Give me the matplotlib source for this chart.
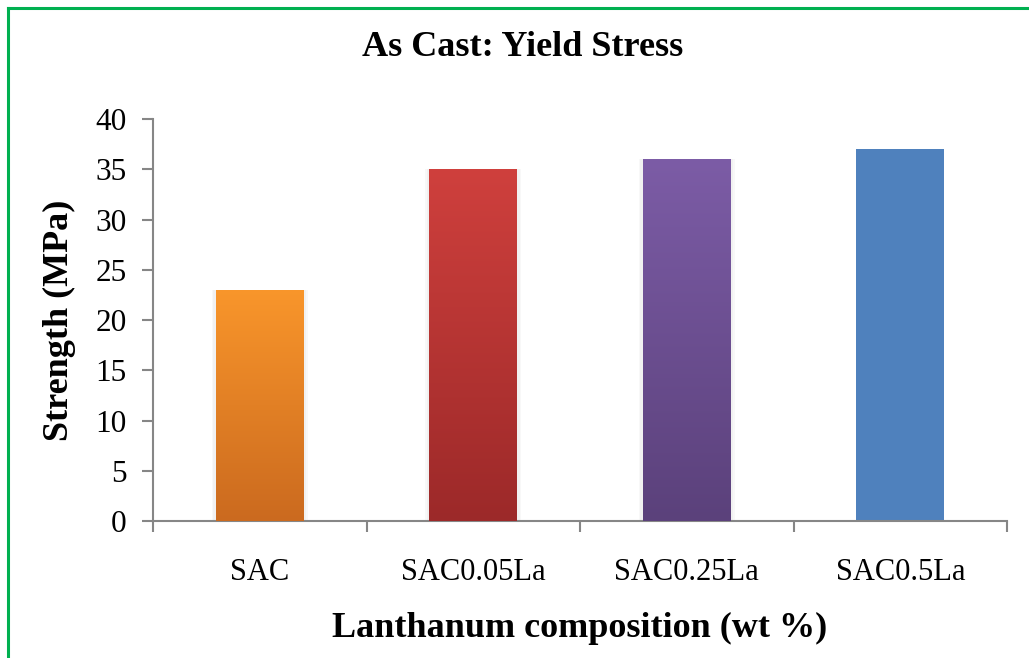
import matplotlib
matplotlib.use("Agg")
import matplotlib.pyplot as plt
import numpy as np
from matplotlib.colors import LinearSegmentedColormap
from matplotlib.lines import Line2D

categories = ["SAC", "SAC0.05La", "SAC0.25La", "SAC0.5La"]
yield_stress = [23, 35, 36, 37]
# top / bottom colours of each bar's vertical gradient
top_colors = ["#F9962B", "#CF403D", "#7C5CA6", "#4F81BD"]
bottom_colors = ["#CB6A1F", "#9C2929", "#5B417B", "#4F81BD"]

title = "As Cast: Yield Stress"
xlabel = "Lanthanum composition (wt %)"
ylabel = "Strength (MPa)"

plt.rcParams["font.family"] = ["Liberation Serif", "DejaVu Serif"]

W, H = 1029, 658
fig = plt.figure(figsize=(W / 100, H / 100), dpi=100)
ax = fig.add_axes([153 / W, 1 - 521 / H, (1007 - 153) / W, (521 - 119) / H])

x = np.arange(len(categories))
bw = 0.41

bars = ax.bar(x, yield_stress, width=bw, color=top_colors, zorder=2, linewidth=0)

for i, (b, v) in enumerate(zip(bars, yield_stress)):
    # faint shadow around the bar
    if top_colors[i] != bottom_colors[i]:
        for k, a in zip([0.04, 0.025], [0.05, 0.05]):
            ax.bar(x[i], v, width=bw + k, color="#808080", alpha=a, zorder=1, linewidth=0)
        cmap = LinearSegmentedColormap.from_list(f"g{i}", [bottom_colors[i], top_colors[i]])
        grad = np.linspace(0, 1, 256).reshape(-1, 1)
        im = ax.imshow(grad, cmap=cmap, origin="lower", aspect="auto",
                       extent=(x[i] - bw / 2, x[i] + bw / 2, 0, v), zorder=3)
        im.set_clip_path(b)
ax.set_xlim(-0.5, len(categories) - 0.5)
ax.set_ylim(0, 40)

axis_col = "#868686"
for s in ["top", "right"]:
    ax.spines[s].set_visible(False)
for s in ["left", "bottom"]:
    ax.spines[s].set_color(axis_col)
    ax.spines[s].set_linewidth(1.5)

ax.set_yticks(np.arange(0, 41, 5))
ax.set_xticks(x)
ax.set_xticklabels(categories)
ax.set_xticks(np.arange(-0.5, len(categories)), minor=True)
ax.tick_params(axis="x", which="major", length=0, pad=26.5, labelsize=22, colors="black")
ax.tick_params(axis="x", which="minor", length=8, width=1.5, color=axis_col, direction="out")
ax.tick_params(axis="y", length=8, width=1.5, color=axis_col, labelsize=22.5, pad=11,
               labelcolor="black")

fig.text((333 + 826) / 2 / W, 1 - 628 / H, xlabel, ha="center", va="center",
         fontsize=26, fontweight="bold")
fig.text(59 / W, 1 - 320 / H, ylabel, ha="center", va="center", rotation=90,
         fontsize=26, fontweight="bold")
fig.text((362 + 684) / 2 / W, 1 - 48 / H, title, ha="center", va="center",
         fontsize=26, fontweight="bold")

# green frame (left and top edges)
fl = 8 / W
ft = 1 - 8 / H
fig.add_artist(Line2D([fl, fl], [-0.01, ft], transform=fig.transFigure, color="#00B050", lw=2.2))
fig.add_artist(Line2D([fl, 1.01], [ft, ft], transform=fig.transFigure, color="#00B050", lw=2.2))

fig.savefig("out.png", dpi=100)
